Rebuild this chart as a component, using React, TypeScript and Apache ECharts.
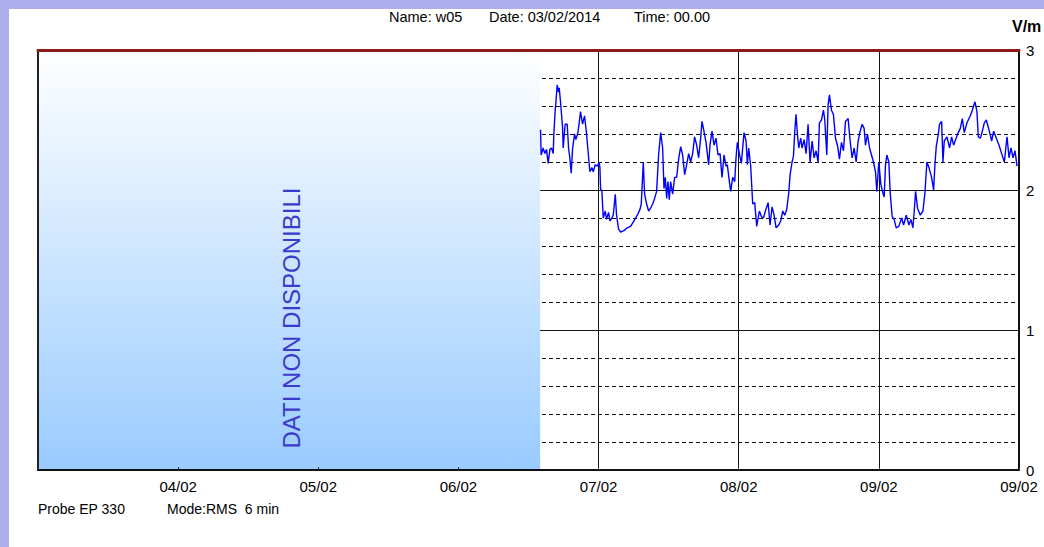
import React, { useEffect, useRef } from "react";
import * as echarts from "echarts";

// Hours elapsed since 03/02/2014 00:00
const hours = [
  86.06, 86.17, 86.51, 86.8, 87.08, 87.37, 87.66, 87.94, 88.23, 88.34, 88.57, 88.68, 88.91, 89.14, 89.26, 89.48,
  89.83, 89.94, 90.28, 90.63, 90.86, 91.08, 91.31, 91.54, 91.88, 92.11, 92.46, 92.68, 92.91, 93.26, 93.6, 93.94,
  94.51, 94.86, 95.08, 95.43, 95.77, 96.11, 96.23, 96.34, 96.57, 96.8, 97.14, 97.37, 97.71, 97.94, 98.28, 98.51,
  98.86, 99.08, 99.43, 99.77, 100.34, 100.91, 101.48, 102.06, 102.63, 103.08, 103.31, 103.66, 103.88, 104.23,
  104.57, 104.91, 105.26, 105.6, 105.94, 106.28, 106.63, 106.97, 107.2, 107.43, 107.66, 107.88, 108.11, 108.34,
  108.68, 109.03, 109.37, 109.71, 110.06, 110.4, 110.74, 111.08, 111.43, 111.77, 112.11, 112.45, 112.8, 113.14,
  113.48, 113.71, 114.05, 114.4, 114.85, 115.08, 115.43, 115.77, 116.11, 116.45, 116.8, 117.14, 117.48, 117.83,
  118.05, 118.4, 118.63, 118.97, 119.31, 119.54, 119.77, 120.11, 120.45, 120.91, 121.26, 121.48, 121.71, 122.05,
  122.4, 122.74, 123.08, 123.54, 123.88, 124.23, 124.57, 125.03, 125.37, 125.71, 126.06, 126.4, 126.85, 127.2,
  127.54, 127.88, 128.22, 128.57, 128.8, 129.14, 129.37, 129.6, 129.82, 130.05, 130.28, 130.62, 130.85, 131.2,
  131.54, 131.88, 132.22, 132.57, 132.91, 133.25, 133.6, 133.82, 134.17, 134.51, 134.74, 135.08, 135.31, 135.54,
  135.88, 136.22, 136.57, 136.91, 137.25, 137.6, 137.94, 138.28, 138.74, 139.08, 139.42, 139.77, 140.11, 140.45,
  140.8, 141.14, 141.48, 141.71, 142.05, 142.4, 142.74, 143.08, 143.42, 143.65, 143.99, 144.34, 144.68, 144.91,
  145.14, 145.37, 145.71, 145.94, 146.28, 146.62, 146.97, 147.42, 147.89, 148.23, 148.69, 149.15, 149.49, 149.83,
  150.06, 150.29, 150.63, 151.09, 151.55, 151.89, 152.23, 152.58, 153.03, 153.38, 153.6, 153.83, 154.18, 154.4,
  154.75, 154.98, 155.2, 155.66, 156.12, 156.46, 156.8, 157.15, 157.6, 157.95, 158.29, 158.63, 159.09, 159.66,
  160.0, 160.46, 160.8, 161.03, 161.38, 161.72, 162.06, 162.4, 162.86, 163.32, 163.66, 164.12, 164.58, 165.03,
  165.49, 165.95, 166.29, 166.63, 166.98, 167.32, 167.66,
];

// Field strength, V/m
const values = [
  2.43, 2.25, 2.3, 2.26, 2.29, 2.19, 2.29, 2.3, 2.26, 2.4, 2.57, 2.62, 2.75, 2.7, 2.73, 2.63,
  2.45, 2.3, 2.47, 2.47, 2.3, 2.23, 2.12, 2.29, 2.4, 2.36, 2.41, 2.48, 2.56, 2.47, 2.53, 2.4,
  2.13, 2.16, 2.13, 2.18, 2.17, 2.2, 2.16, 2.01, 1.99, 1.8, 1.85, 1.79, 1.84, 1.78, 1.8, 1.82,
  1.97, 1.82, 1.72, 1.7, 1.71, 1.73, 1.74, 1.78, 1.82, 1.86, 1.9, 2.2, 1.97, 1.9,
  1.85, 1.87, 1.9, 1.94, 1.99, 2.25, 2.41, 2.3, 2.01, 2.09, 1.94, 2.06, 1.93, 2.06,
  1.97, 2.09, 2.09, 2.22, 2.31, 2.25, 2.11, 2.18, 2.26, 2.2, 2.26, 2.38, 2.32, 2.23,
  2.37, 2.49, 2.42, 2.34, 2.18, 2.32, 2.42, 2.32, 2.37, 2.25, 2.26, 2.09, 2.25, 2.17,
  2.18, 2.06, 1.99, 2.09, 2.06, 2.23, 2.34, 2.26, 2.19, 2.41, 2.35, 2.18, 2.3, 2.17,
  1.9, 1.91, 1.74, 1.85, 1.81, 1.8, 1.85, 1.91, 1.75, 1.88, 1.82, 1.73, 1.75, 1.78,
  1.85, 1.82, 1.86, 1.98, 2.11, 2.2, 2.24, 2.42, 2.54, 2.4, 2.3, 2.37, 2.3, 2.36,
  2.26, 2.47, 2.2, 2.35, 2.23, 2.28, 2.2, 2.48, 2.5, 2.57, 2.5, 2.25, 2.61, 2.68,
  2.57, 2.54, 2.37, 2.32, 2.22, 2.34, 2.28, 2.49, 2.51, 2.35, 2.23, 2.3, 2.2, 2.35,
  2.42, 2.47, 2.44, 2.32, 2.4, 2.3, 2.25, 2.2, 2.13, 1.99, 2.2, 2.04, 1.98, 1.95,
  2.18, 2.25, 2.2, 1.98, 1.81, 1.79, 1.73, 1.74, 1.8, 1.75, 1.82, 1.75, 1.79, 1.73,
  1.85, 1.99, 1.87, 1.82, 1.85, 1.98, 2.2, 2.16, 2.09, 2.0, 2.18, 2.31, 2.4, 2.47,
  2.49, 2.2, 2.35, 2.38, 2.3, 2.38, 2.32, 2.36, 2.41, 2.44, 2.51, 2.41, 2.48, 2.53,
  2.57, 2.63, 2.56, 2.38, 2.37, 2.42, 2.48, 2.5, 2.43, 2.35, 2.42, 2.37, 2.32, 2.26,
  2.2, 2.38, 2.23, 2.3, 2.23, 2.28, 2.17,
];

// Hours at which the unavailable-data block ends
const noDataEnd = 86;

const xTickLabels = ["", "04/02", "05/02", "06/02", "07/02", "08/02", "09/02", "09/02"];
const yTickLabels = ["0", "1", "2", "3"];

const headerTexts = ["Name: w05", "Date: 03/02/2014", "Time: 00.00"];
const footerTexts = ["Probe EP 330", "Mode:RMS  6 min"];
const unitLabel = "V/m";
const noDataLabel = "DATI NON DISPONIBILI";

const FONT = "'Liberation Sans', Arial, sans-serif";

export default function App() {
  const ref = useRef<HTMLDivElement>(null);

  useEffect(() => {
    if (!ref.current) return;
    const chart = echarts.init(ref.current, null, { renderer: "svg" });
    const data = hours.map((h, i) => [h, values[i]]);
    const gridPos = { left: 38, top: 50, width: 981, height: 420, containLabel: false };
    const hidden = {
      axisLine: { show: false },
      axisTick: { show: false },
      axisLabel: { show: false },
    };

    chart.setOption({
      animation: false,
      backgroundColor: "#ffffff",
      grid: [gridPos, gridPos],
      xAxis: [
        {
          type: "value",
          gridIndex: 0,
          position: "bottom",
          min: 0,
          max: 168,
          interval: 24,
          z: 10,
          axisLine: { show: true, onZero: false, lineStyle: { color: "#111", width: 2 } },
          axisTick: { show: true, inside: true, length: 3, lineStyle: { color: "#333" } },
          axisLabel: {
            color: "#000",
            fontSize: 15,
            fontFamily: FONT,
            margin: 9,
            formatter: (v: number) => xTickLabels[Math.round(v / 24)] ?? "",
          },
          splitLine: { show: false },
        },
        {
          type: "value",
          gridIndex: 0,
          position: "top",
          min: 0,
          max: 168,
          interval: 24,
          z: 10,
          axisLine: { show: true, onZero: false, lineStyle: { color: "#8e1a1a", width: 3 } },
          axisTick: { show: false },
          axisLabel: { show: false },
          splitLine: { show: false },
        },
        {
          type: "value",
          gridIndex: 1,
          position: "bottom",
          min: 0,
          max: 168,
          interval: 24,
          ...hidden,
          splitLine: { show: true, lineStyle: { color: "#111", width: 1 } },
        },
      ],
      yAxis: [
        {
          type: "value",
          gridIndex: 0,
          position: "right",
          min: 0,
          max: 3,
          interval: 1,
          z: 10,
          axisLine: { show: true, onZero: false, lineStyle: { color: "#111", width: 2 } },
          axisTick: { show: false },
          axisLabel: {
            color: "#000",
            fontSize: 15,
            fontFamily: FONT,
            margin: 7,
            formatter: (v: number) => yTickLabels[Math.round(v)] ?? "",
          },
          splitLine: { show: false },
        },
        {
          type: "value",
          gridIndex: 0,
          position: "left",
          min: 0,
          max: 3,
          interval: 1,
          z: 10,
          axisLine: { show: true, onZero: false, lineStyle: { color: "#222", width: 2 } },
          axisTick: { show: false },
          axisLabel: { show: false },
          splitLine: { show: false },
        },
        {
          type: "value",
          gridIndex: 1,
          position: "right",
          min: 0,
          max: 3,
          interval: 1,
          ...hidden,
          splitLine: { show: true, lineStyle: { color: "#111", width: 1 } },
          minorTick: { show: false, splitNumber: 5 },
          minorSplitLine: { show: true, lineStyle: { color: "#111", width: 1, type: [4, 3] } },
        },
      ],
      series: [
        {
          type: "line",
          xAxisIndex: 0,
          yAxisIndex: 0,
          data,
          showSymbol: false,
          symbol: "none",
          lineStyle: { color: "#0000ff", width: 1.4 },
          markArea: {
            silent: true,
            itemStyle: {
              color: new echarts.graphic.LinearGradient(0, 0, 0, 1, [
                { offset: 0, color: "#ffffff" },
                { offset: 1, color: "#99cbff" },
              ]),
            },
            data: [[{ xAxis: 0 }, { xAxis: noDataEnd }]],
          },
        },
      ],
      graphic: [
        { type: "rect", shape: { x: 0, y: 0, width: 1044, height: 9 }, style: { fill: "#adadeb" }, z: 100 },
        { type: "rect", shape: { x: 0, y: 0, width: 9, height: 547 }, style: { fill: "#adadeb" }, z: 100 },
        {
          type: "text",
          x: 389,
          y: 17,
          style: { text: headerTexts[0], fill: "#000", font: `14.5px ${FONT}`, verticalAlign: "middle" },
        },
        {
          type: "text",
          x: 489,
          y: 17,
          style: { text: headerTexts[1], fill: "#000", font: `14.5px ${FONT}`, verticalAlign: "middle" },
        },
        {
          type: "text",
          x: 634,
          y: 17,
          style: { text: headerTexts[2], fill: "#000", font: `14.5px ${FONT}`, verticalAlign: "middle" },
        },
        {
          type: "text",
          x: 38,
          y: 509,
          style: { text: footerTexts[0], fill: "#000", font: `14px ${FONT}`, verticalAlign: "middle" },
        },
        {
          type: "text",
          x: 167,
          y: 509,
          style: { text: footerTexts[1], fill: "#000", font: `14px ${FONT}`, verticalAlign: "middle" },
        },
        {
          type: "text",
          x: 1012,
          y: 26,
          style: { text: unitLabel, fill: "#000", font: `bold 16px ${FONT}`, verticalAlign: "middle" },
        },
        {
          type: "text",
          x: 291,
          y: 318,
          rotation: Math.PI / 2,
          z: 50,
          style: {
            text: noDataLabel,
            fill: "#3a3acc",
            font: `24px ${FONT}`,
            align: "center",
            verticalAlign: "middle",
          },
        },
      ],
    });

    return () => chart.dispose();
  }, []);

  return (
    <div
      ref={ref}
      style={{ position: "fixed", left: 0, top: 0, width: 1044, height: 547 }}
    />
  );
}
